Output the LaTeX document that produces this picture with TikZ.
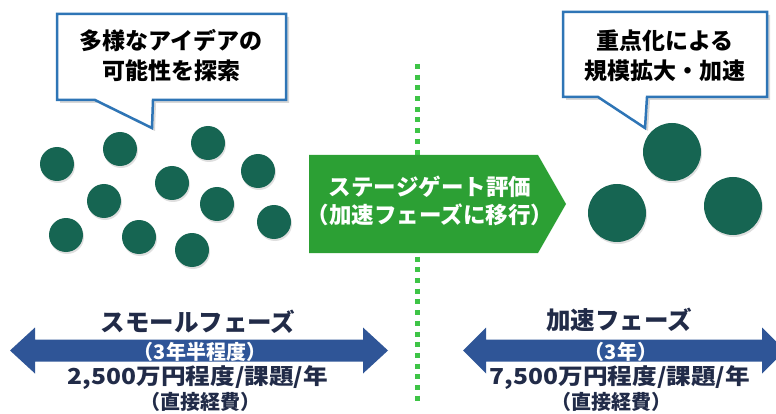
\documentclass[tikz,border=0pt]{standalone}
\usepackage{fontspec}
\newfontfamily\jpfont{Noto Sans CJK JP}
\usetikzlibrary{shadows}
\begin{document}
\begin{tikzpicture}[x=1pt,y=-1pt,
  idea/.style={circle,fill=myteal,inner sep=0pt,minimum size=#1,
    drop shadow={opacity=0.25,shadow xshift=1pt,shadow yshift=-2pt}},
  idea/.default=34pt,
  callout/.style={draw=myblue,line width=2.5pt,fill=white,line join=miter,
    drop shadow={opacity=0.3,shadow xshift=3pt,shadow yshift=-3pt}},
  bubbletext/.style={font=\jpfont\bfseries\fontsize{23}{30}\selectfont,align=center,text=black},
  phase/.style={font=\jpfont\bfseries\fontsize{24.5}{30}\selectfont,text=mynavy},
  years/.style={font=\jpfont\bfseries\fontsize{20}{22}\selectfont,text=white},
  cost/.style={font=\jpfont\bfseries\fontsize{22}{26}\selectfont,text=mynavy},
  direct/.style={font=\jpfont\bfseries\fontsize{20}{22}\selectfont,text=mynavy}]

\definecolor{myteal}{RGB}{22,101,82}
\definecolor{myblue}{RGB}{46,117,182}
\definecolor{mygreen}{RGB}{44,160,52}
\definecolor{mylime}{RGB}{62,196,70}
\definecolor{myarrow}{RGB}{47,85,151}
\definecolor{mynavy}{RGB}{33,43,72}

\clip (0,0) rectangle (776,414);
\fill[white] (0,0) rectangle (776,414);

% dividing line
\draw[mylime,line width=5pt,dash pattern=on 5pt off 5.7pt] (417,64) -- (417,404);

% small phase: many ideas
\node[idea] (s1) at (57,164) {};
\node[idea] (s2) at (120,149) {};
\node[idea] (s3) at (208,143) {};
\node[idea] (s4) at (258,171) {};
\node[idea] (s5) at (172,183) {};
\node[idea] (s6) at (104,201) {};
\node[idea] (s7) at (217,204) {};
\node[idea] (s8) at (66,235) {};
\node[idea] (s9) at (139,237) {};
\node[idea] (s10) at (192,250) {};
\node[idea] (s11) at (274,222) {};

% accelerated phase: few big ones
\node[idea=58pt] (b1) at (672,152) {};
\node[idea=58pt] (b2) at (617,213) {};
\node[idea=58pt] (b3) at (733,206) {};

% callouts
\draw[callout] (57,14) -- (286,14) -- (286,100) -- (153,100) -- (152,128)
  -- (95,100) -- (57,100) -- cycle;
\node[bubbletext] (lefttext) at (171,56) {多様なアイデアの\\可能性を探索};
\draw[callout] (563,12) -- (767,12) -- (767,97) -- (647,97) -- (645,128)
  -- (598,97) -- (563,97) -- cycle;
\node[bubbletext] (righttext) at (665,56) {重点化による\\規模拡大・加速};

% stage gate
\fill[mygreen] (309,155) -- (538,155) -- (566,204) -- (538,253) -- (309,253) -- cycle;
\node[font=\jpfont\bfseries\fontsize{22.5}{28}\selectfont,text=white,align=center]
  (gate) at (430,201) {ステージゲート評価\\（加速フェーズに移行）};

% duration arrows
\fill[myarrow] (10,350.5) -- (35,327.5) -- (35,339.5) -- (363,339.5) -- (363,327.5)
  -- (388,350.5) -- (363,373.5) -- (363,361.5) -- (35,361.5) -- (35,373.5) -- cycle;
\fill[myarrow] (463,350.5) -- (486,327.5) -- (486,339.5) -- (762,339.5) -- (762,327.5)
  -- (785,350.5) -- (762,373.5) -- (762,361.5) -- (486,361.5) -- (486,373.5) -- cycle;

\node[phase] (small) at (198,322) {スモールフェーズ};
\node[years] (smallyr) at (200,352) {（3年半程度）};
\node[cost] (smallcost) at (198,378) {\scalebox{1.12}[1]{2,500万円程度/課題/年}};
\node[direct] (smalldir) at (200,402) {（直接経費）};

\node[phase] (accel) at (619,320) {加速フェーズ};
\node[years] (accelyr) at (621,352) {（3年）};
\node[cost] (accelcost) at (620,378) {\scalebox{1.12}[1]{7,500万円程度/課題/年}};
\node[direct] (acceldir) at (611,402) {（直接経費）};
\end{tikzpicture}
\end{document}
